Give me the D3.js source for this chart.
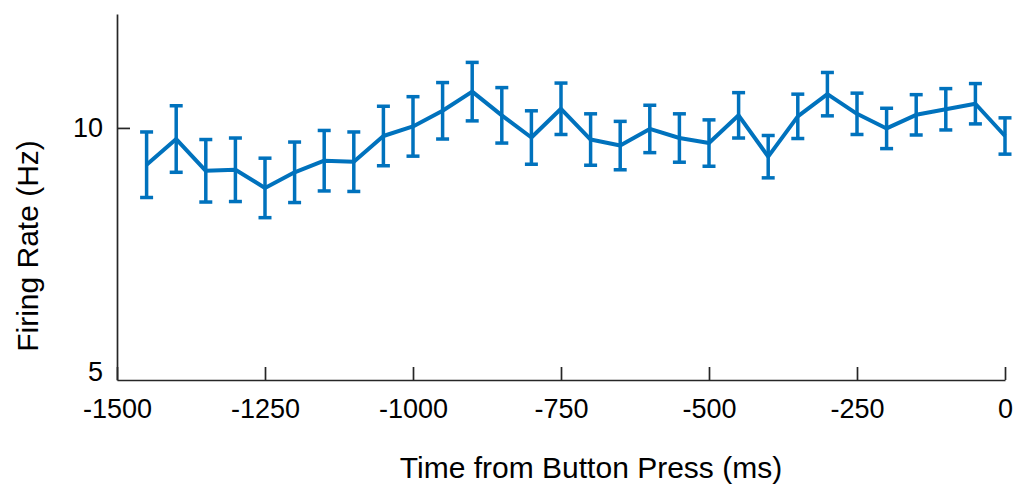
<!DOCTYPE html>
<html>
<head>
<meta charset="utf-8">
<script src="https://cdn.jsdelivr.net/npm/d3@7"></script>
<style>
  html, body { margin: 0; padding: 0; background: #fff; }
  svg { display: block; }
  text { font-family: "Liberation Sans", Arial, Helvetica, sans-serif; fill: #000; }
</style>
</head>
<body>
<svg id="chart" width="1016" height="489"></svg>
<script>
// Time bins (ms, relative to button press)
const times = [-1450,-1400,-1350,-1300,-1250,-1200,-1150,-1100,-1050,-1000,
               -950,-900,-850,-800,-750,-700,-650,-600,-550,-500,
               -450,-400,-350,-300,-250,-200,-150,-100,-50,0];
// Mean firing rate (Hz)
const rates = [9.27,9.78,9.15,9.17,8.81,9.12,9.35,9.33,9.84,10.03,
               10.34,10.72,10.25,9.81,10.38,9.77,9.65,9.98,9.80,9.70,
               10.25,9.43,10.23,10.67,10.28,9.99,10.26,10.37,10.48,9.84];
// Error (half-length of error bar, Hz)
const errs = [0.65,0.66,0.62,0.63,0.59,0.60,0.60,0.59,0.59,0.59,
              0.56,0.58,0.55,0.53,0.51,0.51,0.48,0.47,0.48,0.46,
              0.45,0.42,0.44,0.43,0.41,0.40,0.40,0.41,0.40,0.36];
const xTicks = [-1500,-1250,-1000,-750,-500,-250,0];
const yTicks = [5,10];
const xDomain = [-1500, 0];
const yDomain = [5, 12.26];
const xTitle = "Time from Button Press (ms)";
const yTitle = "Firing Rate (Hz)";

(function () {
const svg = d3.select("#chart");
const mLeft = 117, mRight = 1005, mTop = 14, mBottom = 380;
const color = "#0072BD";
const axisColor = "#262626";
const fmt = d => String(d);

const x = d3.scaleLinear().domain(xDomain).range([mLeft, mRight]);
const y = d3.scaleLinear().domain(yDomain).range([mBottom, mTop]);

// X axis
const gx = svg.append("g")
  .attr("transform", `translate(0,${mBottom})`)
  .call(d3.axisBottom(x).tickValues(xTicks).tickSizeInner(-13).tickSizeOuter(0).tickPadding(19)
        .tickFormat(fmt));
gx.select(".domain").attr("stroke", axisColor).attr("stroke-width", 1.7);
gx.selectAll(".tick line").attr("stroke", axisColor).attr("stroke-width", 1.7);
gx.selectAll(".tick text").attr("font-size", 27).attr("fill", "#000")
  .style("font-family", '"Liberation Sans", Arial, sans-serif');

// Y axis
const gy = svg.append("g")
  .attr("transform", `translate(${mLeft},0)`)
  .call(d3.axisLeft(y).tickValues(yTicks).tickSizeInner(-13).tickSizeOuter(0).tickPadding(14)
        .tickFormat(fmt));
gy.select(".domain").attr("stroke", axisColor).attr("stroke-width", 1.7);
gy.selectAll(".tick line").attr("stroke", axisColor).attr("stroke-width", 1.7);
gy.selectAll(".tick text").attr("font-size", 27).attr("fill", "#000")
  .style("font-family", '"Liberation Sans", Arial, sans-serif');
// lowest tick label sits slightly above the corner
gy.selectAll(".tick").filter(d => d === yDomain[0]).select("text").attr("y", -8);
gy.selectAll(".tick").filter(d => d === yDomain[0]).select("line").remove();

// Titles
svg.append("text")
  .attr("x", (mLeft + mRight) / 2 + 30).attr("y", 478)
  .attr("text-anchor", "middle").attr("font-size", 30)
  .text(xTitle);
svg.append("text")
  .attr("transform", `translate(38,246) rotate(-90)`)
  .attr("text-anchor", "middle").attr("font-size", 30)
  .text(yTitle);

const data = times.map((t, i) => ({ t, v: rates[i], e: errs[i] }));
const capHalf = 6.5;

// Error bars
const eb = svg.append("g").attr("stroke", color).attr("stroke-width", 3.5).attr("fill", "none");
eb.selectAll("line.v").data(data).join("line").attr("class", "v")
  .attr("x1", d => x(d.t)).attr("x2", d => x(d.t))
  .attr("y1", d => y(d.v - d.e)).attr("y2", d => y(d.v + d.e));
eb.selectAll("line.ct").data(data).join("line").attr("class", "ct")
  .attr("x1", d => x(d.t) - capHalf).attr("x2", d => x(d.t) + capHalf)
  .attr("y1", d => y(d.v + d.e)).attr("y2", d => y(d.v + d.e));
eb.selectAll("line.cb").data(data).join("line").attr("class", "cb")
  .attr("x1", d => x(d.t) - capHalf).attr("x2", d => x(d.t) + capHalf)
  .attr("y1", d => y(d.v - d.e)).attr("y2", d => y(d.v - d.e));

// Mean line
svg.append("path").datum(data)
  .attr("fill", "none").attr("stroke", color).attr("stroke-width", 4)
  .attr("stroke-linejoin", "round")
  .attr("d", d3.line().x(d => x(d.t)).y(d => y(d.v)));
})();
</script>
</body>
</html>
